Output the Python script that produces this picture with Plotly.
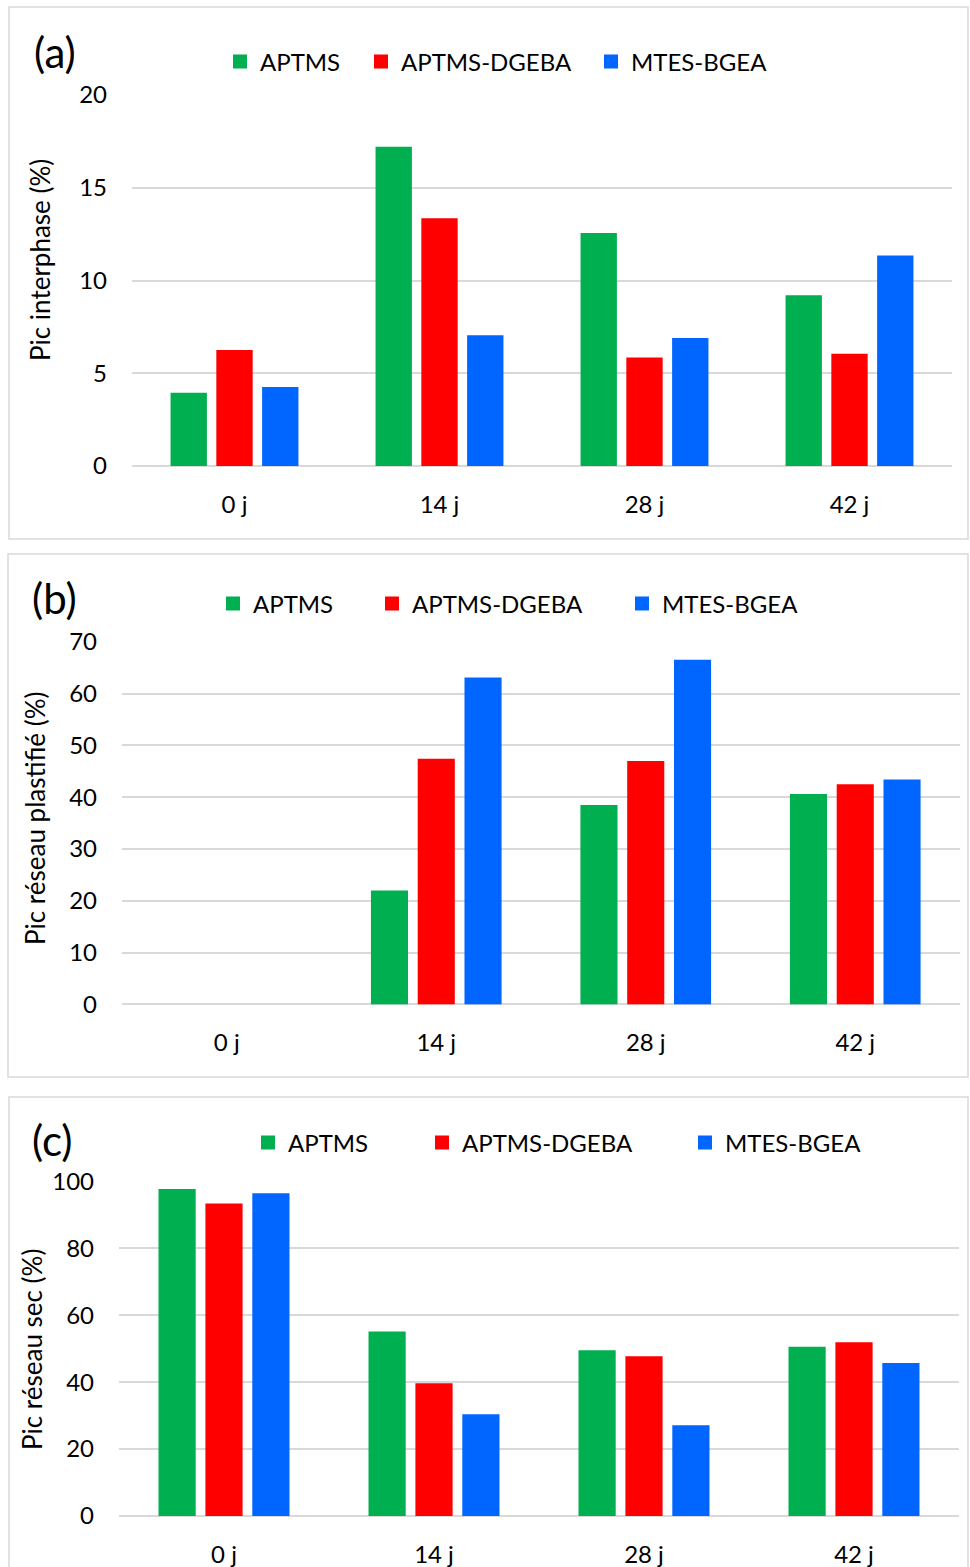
import plotly.graph_objects as go

W, H = 970, 1567

categories = ["0 j", "14 j", "28 j", "42 j"]
series_names = ["APTMS", "APTMS-DGEBA", "MTES-BGEA"]
series_colors = ["#00B050", "#FF0000", "#0066FF"]

a_aptms = [3.9, 17.15, 12.5, 9.15]
a_dgeba = [6.2, 13.3, 5.8, 6.0]
a_bgea = [4.2, 7.0, 6.85, 11.3]

b_aptms = [None, 21.8, 38.3, 40.4]
b_dgeba = [None, 47.2, 46.8, 42.3]
b_bgea = [None, 62.9, 66.3, 43.2]

c_aptms = [97.4, 54.8, 49.2, 50.3]
c_dgeba = [93.1, 39.4, 47.4, 51.6]
c_bgea = [96.1, 30.1, 26.8, 45.4]

panel_labels = ["(a)", "(b)", "(c)"]
y_titles = ["Pic interphase (%)", "Pic réseau plastifié (%)", "Pic réseau sec (%)"]
y_ranges = [[0, 20], [0, 70], [0, 100]]
y_dticks = [5, 10, 20]

FONT = "Lato"
GRID = "#d9d9d9"


def px(x):
    return x / W


def py(y):
    return 1 - y / H


panels = [
    dict(data=[a_aptms, a_dgeba, a_bgea], x0=132, x1=952, ytop=95, ybot=466,
         box=(9, 7, 968, 539), label=(55, 52), ytitle=(40, 260),
         legend_y=62, legend_text_x=[260, 401, 631]),
    dict(data=[b_aptms, b_dgeba, b_bgea], x0=122, x1=960, ytop=641.7, ybot=1004.3,
         box=(8, 554, 968, 1077), label=(54.5, 598), ytitle=(35, 819),
         legend_y=604, legend_text_x=[253, 412, 662]),
    dict(data=[c_aptms, c_dgeba, c_bgea], x0=119, x1=959, ytop=1181.3, ybot=1516,
         box=(9, 1097, 968, 1580), label=(52, 1140), ytitle=(32, 1350),
         legend_y=1143, legend_text_x=[288, 462, 725]),
]

fig = go.Figure()
layout = dict(
    width=W, height=H, margin=dict(l=0, r=0, t=0, b=0, autoexpand=False),
    paper_bgcolor="white", plot_bgcolor="white",
    barmode="group", bargap=0.33, bargroupgap=0.25,
    font=dict(family=FONT, size=24, color="black"),
    shapes=[], annotations=[],
)

leg_idx = 0
for i, p in enumerate(panels):
    xa = "x" if i == 0 else f"x{i+1}"
    ya = "y" if i == 0 else f"y{i+1}"
    xkey = "xaxis" if i == 0 else f"xaxis{i+1}"
    ykey = "yaxis" if i == 0 else f"yaxis{i+1}"
    for j, vals in enumerate(p["data"]):
        leg_idx += 1
        lname = "legend" if leg_idx == 1 else f"legend{leg_idx}"
        fig.add_trace(go.Bar(
            x=categories, y=vals, name=series_names[j],
            marker=dict(color=series_colors[j], line=dict(width=2, color=series_colors[j])),
            xaxis=xa, yaxis=ya, legend=lname, showlegend=True,
            hoverinfo="x+y+name",
        ))
        layout[lname] = dict(
            x=px(p["legend_text_x"][j] - 40), xanchor="left",
            y=py(p["legend_y"]), yanchor="middle",
            orientation="h", bgcolor="rgba(0,0,0,0)",
            font=dict(family=FONT, size=24, color="black"),
            itemwidth=30,
        )
    layout[xkey] = dict(
        domain=[px(p["x0"]), px(p["x1"])], anchor=ya, automargin=False,
        type="category", categoryorder="array", categoryarray=categories,
        showgrid=False, showline=False, zeroline=False, ticks="",
        ticklabelstandoff=22,
        tickfont=dict(family=FONT, size=24, color="black"),
        fixedrange=True,
    )
    layout[ykey] = dict(
        domain=[py(p["ybot"]), py(p["ytop"])], anchor=xa, automargin=False,
        range=y_ranges[i], dtick=y_dticks[i], tick0=0,
        showgrid=True, gridcolor=GRID, gridwidth=1.5,
        zeroline=True, zerolinecolor=GRID, zerolinewidth=1.5,
        showline=False, ticks="", ticklabelstandoff=24,
        tickfont=dict(family=FONT, size=24, color="black"),
        fixedrange=True,
    )
    bx0, by0, bx1, by1 = p["box"]
    layout["shapes"].append(dict(
        type="rect", xref="paper", yref="paper",
        x0=px(bx0), x1=px(bx1), y0=py(by1), y1=py(by0),
        line=dict(color=GRID, width=1.5), fillcolor="rgba(0,0,0,0)", layer="below",
    ))
    layout["annotations"].append(dict(
        text=panel_labels[i], xref="paper", yref="paper",
        x=px(p["label"][0]), y=py(p["label"][1]), xanchor="center", yanchor="middle",
        showarrow=False, font=dict(family=FONT, size=42, color="black"),
    ))
    layout["annotations"].append(dict(
        text=y_titles[i], xref="paper", yref="paper", textangle=-90,
        x=px(p["ytitle"][0]), y=py(p["ytitle"][1]), xanchor="center", yanchor="middle",
        showarrow=False, font=dict(family=FONT, size=26, color="black"),
    ))

fig.update_layout(**layout)
fig.write_html(
    "out.html",
    config={"displayModeBar": False},
    post_script="document.body.style.margin='0';document.body.style.overflow='hidden';",
)
